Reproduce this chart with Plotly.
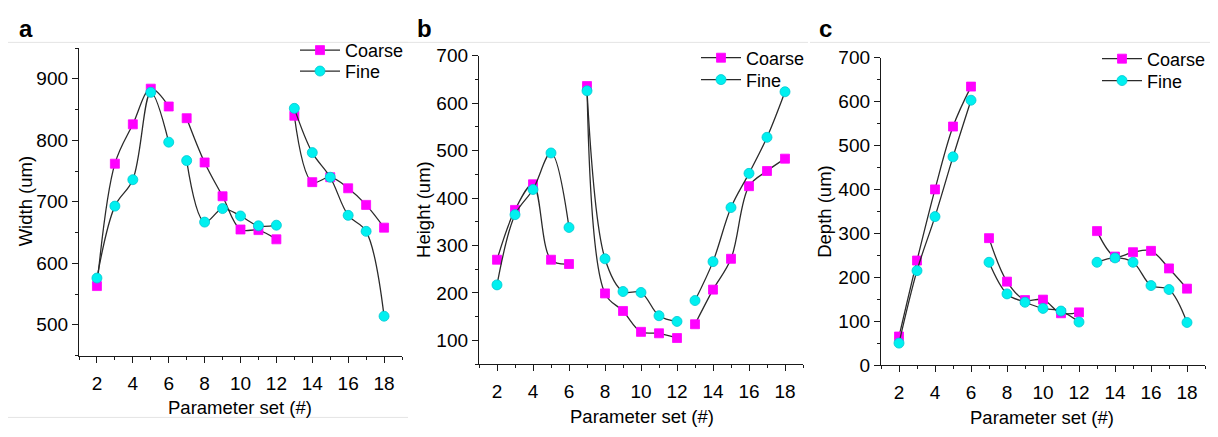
import plotly.graph_objects as go

# ---------------- data ----------------
PARAM_SETS = list(range(2, 19))
GROUP_BREAKS = [6, 12]  # curves are drawn separately for 2-6, 7-12, 13-18

width_coarse = [563, 762, 826, 884, 855, 836, 764, 709, 655, 654, 639, 840, 732, 740, 722, 695, 658]
width_fine = [576, 693, 736, 878, 797, 767, 667, 689, 677, 661, 662, 852, 780, 740, 678, 652, 514]

height_coarse = [270, 375, 429, 270, 261, 636, 199, 162, 118, 115, 105, 134, 207, 272, 425, 457, 483]
height_fine = [217, 365, 418, 495, 338, 626, 272, 203, 201, 152, 140, 184, 266, 380, 452, 528, 624]

depth_coarse = [65, 238, 400, 543, 634, 289, 190, 148, 149, 118, 120, 305, 247, 257, 260, 220, 174]
depth_fine = [50, 215, 338, 474, 603, 234, 162, 143, 129, 123, 98, 234, 244, 234, 181, 172, 97]

X_TICKS = [2, 4, 6, 8, 10, 12, 14, 16, 18]
PANEL_LABELS = ["a", "b", "c"]
Y_TITLES = ["Width (um)", "Height (um)", "Depth (um)"]
X_TITLE = "Parameter set (#)"
SERIES_NAMES = ["Coarse", "Fine"]

# ---------------- helpers ----------------
W, H = 1218, 437


def px(x):
    return x / W


def py(y):
    return 1 - y / H


def with_gaps(xs, ys):
    ox, oy = [], []
    for x, y in zip(xs, ys):
        ox.append(x)
        oy.append(y)
        if x in GROUP_BREAKS:
            ox.append(None)
            oy.append(None)
    return ox, oy


FONT = "Liberation Sans, Arial, sans-serif"
LINE_COLOR = "#2b2b2b"
MAGENTA = "#ff00ff"
CYAN = "#00f0f0"

panels = [
    dict(coarse=width_coarse, fine=width_fine, yrange=[450, 950], ytick0=500,
         xdom=(79, 402), ydom=(40, 363)),
    dict(coarse=height_coarse, fine=height_fine, yrange=[50, 700], ytick0=100,
         xdom=(479, 803), ydom=(48, 372)),
    dict(coarse=depth_coarse, fine=depth_fine, yrange=[0, 700], ytick0=0,
         xdom=(881, 1205), ydom=(50, 373)),
]

fig = go.Figure()
layout = dict(
    width=W, height=H,
    margin=dict(l=0, r=0, t=0, b=0),
    paper_bgcolor="white", plot_bgcolor="white",
    font=dict(family=FONT, size=16, color="black"),
    showlegend=True,
)

# left x of legend line, and centre y of each legend row (Coarse, Fine)
legend_pos = [(300, 49, 71), (701, 57, 80), (1102, 58, 81)]
LEGEND_OFFSET = 26  # px from legend top to first row centre (measured)
xtitle_pos = [(240, 418), (642, 427), (1042, 428)]
ytitle_pos = [(25, 201), (424, 210), (825, 212)]
letter_pos = [(26, 19), (424, 19), (825, 19)]

annotations = []
shapes = []

for i, p in enumerate(panels):
    suffix = "" if i == 0 else str(i + 1)
    xa, ya = "x" + suffix, "y" + suffix
    lx, ly_c, ly_f = legend_pos[i]

    for j, (name, vals, sym, col, size, lc, ly) in enumerate([
        (SERIES_NAMES[0], p["coarse"], "square", MAGENTA, 9, MAGENTA, ly_c),
        (SERIES_NAMES[1], p["fine"], "circle", CYAN, 10, "#00c8d2", ly_f),
    ]):
        idx = 2 * i + j + 1
        legend_name = "legend" if idx == 1 else "legend" + str(idx)
        gx, gy = with_gaps(PARAM_SETS, vals)
        fig.add_trace(go.Scatter(
            x=gx, y=gy, name=name, mode="lines+markers",
            line=dict(color=LINE_COLOR, width=1.3, shape="spline", smoothing=1.0),
            marker=dict(symbol=sym, color=col, size=size, line=dict(color=lc, width=0.8)),
            connectgaps=False, xaxis=xa, yaxis=ya, legend=legend_name,
        ))
        layout[legend_name] = dict(
            x=px(lx - 5), y=py(ly - LEGEND_OFFSET), xanchor="left", yanchor="top",
            bgcolor="rgba(0,0,0,0)", font=dict(size=18, family=FONT),
            itemwidth=40,
        )

    x0, x1 = p["xdom"]
    y0, y1 = p["ydom"]
    layout["xaxis" + suffix] = dict(
        domain=[px(x0), px(x1)], anchor=ya, range=[1, 19],
        tickmode="array", tickvals=X_TICKS,
        showline=True, linecolor="#1a1a1a", linewidth=1.3,
        ticks="outside", ticklen=6, tickwidth=1.2, tickcolor="#1a1a1a",
        minor=dict(ticks="outside", ticklen=3, tickwidth=1.1, tickcolor="#1a1a1a", dtick=1, tick0=1),
        showgrid=False, zeroline=False, ticklabelstandoff=4,
        tickfont=dict(size=19, family=FONT),
    )
    layout["yaxis" + suffix] = dict(
        domain=[py(y1), py(y0)], anchor=xa, range=p["yrange"],
        tick0=p["ytick0"], dtick=100,
        showline=True, linecolor="#1a1a1a", linewidth=1.3,
        ticks="outside", ticklen=6, tickwidth=1.2, tickcolor="#1a1a1a",
        minor=dict(ticks="outside", ticklen=3, tickwidth=1.1, tickcolor="#1a1a1a", dtick=50),
        showgrid=False, zeroline=False,
        tickfont=dict(size=19, family=FONT),
    )

    tx, ty = xtitle_pos[i]
    annotations.append(dict(x=px(tx), y=py(ty), xref="paper", yref="paper", text=X_TITLE,
                            showarrow=False, font=dict(size=18.5), xanchor="center", yanchor="middle"))
    tx, ty = ytitle_pos[i]
    annotations.append(dict(x=px(tx), y=py(ty), xref="paper", yref="paper", text=Y_TITLES[i],
                            showarrow=False, textangle=-90, font=dict(size=18.5),
                            xanchor="center", yanchor="middle"))
    tx, ty = letter_pos[i]
    annotations.append(dict(x=px(tx), y=py(ty), xref="paper", yref="paper",
                            text="<b>" + PANEL_LABELS[i] + "</b>",
                            showarrow=False, font=dict(size=24), xanchor="center", yanchor="middle"))

# faint frame lines of the original composite
faint = "#e4e4e4"
for (a, b) in [(8, 408), (400, 808), (810, 1210)]:
    shapes.append(dict(type="line", xref="paper", yref="paper", x0=px(a), x1=px(b),
                       y0=py(34), y1=py(34), line=dict(color=faint, width=1)))
shapes.append(dict(type="line", xref="paper", yref="paper", x0=px(8), x1=px(408),
                   y0=py(428), y1=py(428), line=dict(color=faint, width=1)))

layout["annotations"] = annotations
layout["shapes"] = shapes
fig.update_layout(**layout)
fig.write_html("out.html")
